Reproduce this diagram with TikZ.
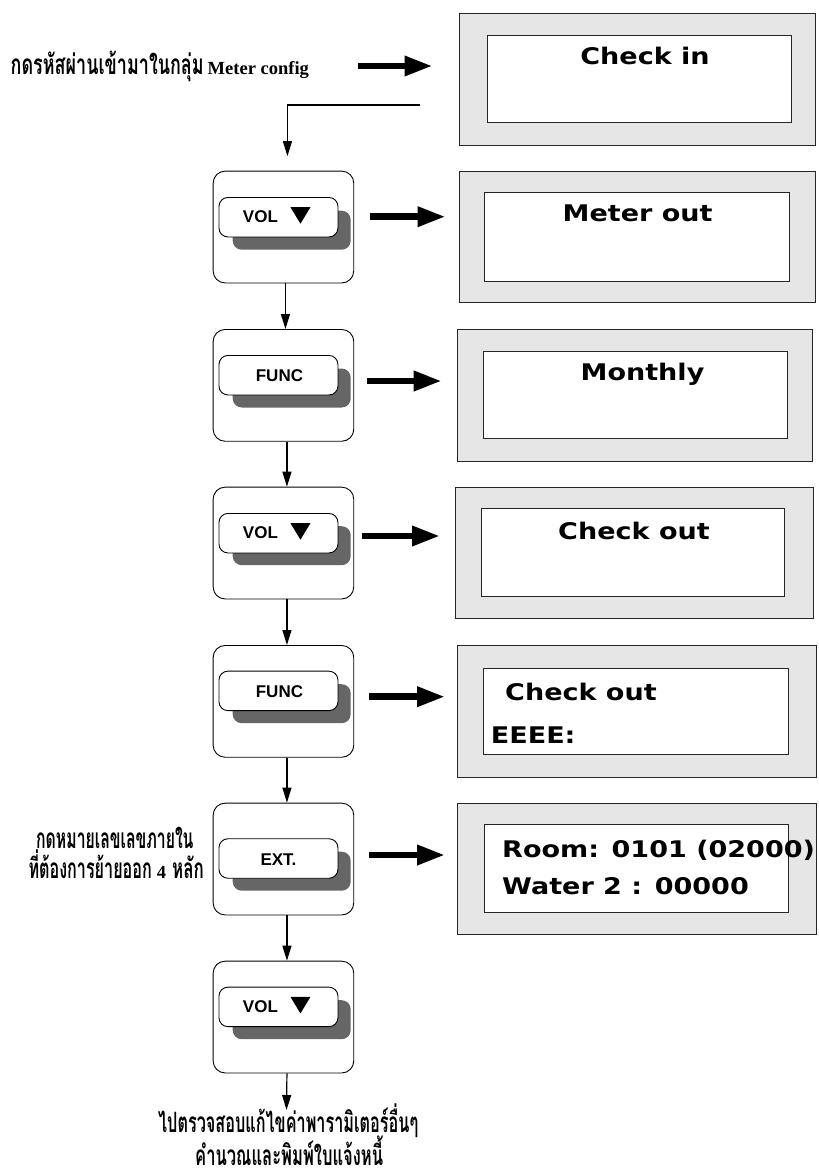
\documentclass[tikz,border=0pt]{standalone}
\usepackage{fontspec}
\usepackage{graphicx}
\usetikzlibrary{arrows.meta,calc}
\newfontfamily\thaifont[Script=Thai]{Loma}
\newfontfamily\lcdfont[FakeStretch=1.18]{DejaVu Sans}
\newfontfamily\btnfont{Liberation Sans}
\newfontfamily\serfont{Liberation Serif}
\definecolor{lcdgray}{RGB}{230,230,230}
\definecolor{shadowgray}{RGB}{102,102,102}
\newcommand\thaiA{\fontsize{28}{30}\selectfont\thaifont\bfseries}
\newcommand\latB{\fontsize{18.5}{20}\selectfont\serfont\bfseries}
\begin{document}
\begin{tikzpicture}[x=1pt,y=-1pt,
  lcdout/.style={draw=black!85, fill=lcdgray, line width=0.9pt, inner sep=0pt, anchor=north west},
  lcdin/.style={draw=black!85, fill=white, line width=0.9pt, inner sep=0pt, anchor=north west},
  keybox/.style={draw=black, fill=white, rounded corners=12pt, line width=0.9pt, inner sep=0pt, anchor=north west, minimum width=140.6pt, minimum height=111.8pt},
  btn/.style={draw=black, fill=white, rounded corners=9pt, line width=0.9pt, inner sep=0pt, anchor=north west, minimum width=119pt, minimum height=39.5pt},
  btnshadow/.style={fill=shadowgray, rounded corners=9pt, inner sep=0pt, anchor=north west, minimum width=118pt, minimum height=39pt},
  btntext/.style={font=\btnfont\bfseries\fontsize{17}{17}\selectfont, inner sep=0pt, anchor=base},
  lcdtext/.style={font=\lcdfont\bfseries\fontsize{22.9}{23}\selectfont, inner sep=0pt},
  bigarrow/.style={line width=6.5pt, -{Triangle[length=28pt,width=19pt]}},
  smallarrow/.style={line width=1.2pt, -{Triangle[length=15pt,width=9pt]}},
  thaitext/.style={inner sep=0pt, anchor=base west},
  tri/.style={fill=black}
]
\useasboundingbox (0,0) rectangle (819,1171);

% ---------- LCD displays ----------
\node[lcdout, minimum width=356.5pt, minimum height=132pt] (lcd1) at (458.5,12.7) {};
\node[lcdin, minimum width=303.5pt, minimum height=87pt] (lcd1i) at (487,35) {};
\node[lcdtext, anchor=base] (lcd1t) at (645,64) {Check in};

\node[lcdout, minimum width=356.5pt, minimum height=131.5pt] (lcd2) at (458.5,170.7) {};
\node[lcdin, minimum width=305pt, minimum height=88.7pt] (lcd2i) at (484,192) {};
\node[lcdtext, anchor=base] (lcd2t) at (637.7,221.7) {Meter out};

\node[lcdout, minimum width=355pt, minimum height=131.4pt] (lcd3) at (457.3,329.3) {};
\node[lcdin, minimum width=303.4pt, minimum height=87.6pt] (lcd3i) at (483.3,350.7) {};
\node[lcdtext, anchor=base] (lcd3t) at (642.5,380) {Monthly};

\node[lcdout, minimum width=358pt, minimum height=131pt] (lcd4) at (455,487) {};
\node[lcdin, minimum width=303pt, minimum height=88pt] (lcd4i) at (481,508) {};
\node[lcdtext, anchor=base] (lcd4t) at (634,539.3) {Check out};

\node[lcdout, minimum width=358.7pt, minimum height=132pt] (lcd5) at (457,645) {};
\node[lcdin, minimum width=304.7pt, minimum height=86pt] (lcd5i) at (483,668) {};
\node[lcdtext, anchor=base west] (lcd5t) at (505,700) {Check out};
\node[lcdtext, anchor=base west] (lcd5u) at (490.7,743.3) {EEEE:};

\node[lcdout, minimum width=358.4pt, minimum height=131.3pt] (lcd6) at (457.3,802.7) {};
\node[lcdin, minimum width=303.7pt, minimum height=87.7pt] (lcd6i) at (484,824) {};
\node[lcdtext, anchor=base west] (lcd6t) at (502,857) {Room: 0101 (02000)};
\node[lcdtext, anchor=base west] (lcd6u) at (502,894) {Water 2 : 00000};

% ---------- keys ----------
% VOL 1
\node[keybox] (vol1) at (212.7,170.7) {};
\node[btnshadow] (vol1s) at (232.5,210.5) {};
\node[btn] (vol1b) at (218.5,197) {};
\node[btntext] (vol1t) at ($(vol1b.center)+(-18,5.5)$) {VOL};
\fill[tri] ($(vol1b.center)+(12,-10)$) -- ++(20,0) -- ++(-10,16.5) -- cycle;

% FUNC 1
\node[keybox] (func1) at (212.7,329) {};
\node[btnshadow] (func1s) at (232.5,368.3) {};
\node[btn] (func1b) at (218.5,355) {};
\node[btntext] (func1t) at ($(func1b.center)+(1,6.3)$) {FUNC};

% VOL 2
\node[keybox] (vol2) at (212.7,486.7) {};
\node[btnshadow] (vol2s) at (232.5,526) {};
\node[btn] (vol2b) at (218.5,513) {};
\node[btntext] (vol2t) at ($(vol2b.center)+(-18,5.5)$) {VOL};
\fill[tri] ($(vol2b.center)+(12,-10)$) -- ++(20,0) -- ++(-10,16.5) -- cycle;

% FUNC 2
\node[keybox] (func2) at (212.7,645) {};
\node[btnshadow] (func2s) at (232.5,684) {};
\node[btn] (func2b) at (218.5,670.7) {};
\node[btntext] (func2t) at ($(func2b.center)+(1,6.3)$) {FUNC};

% EXT
\node[keybox] (ext) at (212.7,802.7) {};
\node[btnshadow] (exts) at (232.5,851.5) {};
\node[btn] (extb) at (218.5,838.3) {};
\node[btntext] (extt) at ($(extb.center)+(0,7)$) {EXT.};

% VOL 3
\node[keybox] (vol3) at (212.7,960.7) {};
\node[btnshadow] (vol3s) at (232.5,1000) {};
\node[btn] (vol3b) at (218.5,986.7) {};
\node[btntext] (vol3t) at ($(vol3b.center)+(-18,5.5)$) {VOL};
\fill[tri] ($(vol3b.center)+(12,-10)$) -- ++(20,0) -- ++(-10,16.5) -- cycle;

% ---------- Thai texts ----------
\node[thaitext] (th1) at (10.5,74.3) {\resizebox{193pt}{\height}{\thaiA กดรหัสผ่านเข้ามาในกลุ่ม}\hspace{4pt}{\latB Meter config}};
\node[thaitext] (th2) at (36,848) {\resizebox{157.3pt}{\height}{\thaiA กดหมายเลขเลขภายใน}};
\node[thaitext] (th3) at (28.3,878) {\resizebox{123.4pt}{\height}{\thaiA ที่ต้องการย้ายออก}\hspace{5pt}{\latB 4}\hspace{6pt}\resizebox{31.7pt}{\height}{\thaiA หลัก}};
\node[thaitext] (th4) at (158,1132.5) {\resizebox{260pt}{\height}{\thaiA ไปตรวจสอบแก้ไขค่าพารามิเตอร์อื่นๆ}};
\node[thaitext] (th5) at (195,1165) {\resizebox{188pt}{\height}{\thaiA คำนวณและพิมพ์ใบแจ้งหนี้}};

% ---------- big arrows ----------
\coordinate (a1s) at (357.6,66);   \coordinate (a1e) at (432.5,66);
\coordinate (a2s) at (369.6,216.7); \coordinate (a2e) at (445.5,216.7);
\coordinate (a3s) at (367.3,381);  \coordinate (a3e) at (441.7,381);
\coordinate (a4s) at (362,536);    \coordinate (a4e) at (440,536);
\coordinate (a5s) at (369.3,696.7); \coordinate (a5e) at (445,696.7);
\coordinate (a6s) at (369.3,855);  \coordinate (a6e) at (445,855);
\draw[bigarrow] (a1s) -- (a1e);
\draw[bigarrow] (a2s) -- (a2e);
\draw[bigarrow] (a3s) -- (a3e);
\draw[bigarrow] (a4s) -- (a4e);
\draw[bigarrow] (a5s) -- (a5e);
\draw[bigarrow] (a6s) -- (a6e);

% ---------- thin connectors ----------
\coordinate (c0) at (420,105);
\draw[smallarrow, shorten >=14.5pt] (c0) -| ([xshift=4pt]vol1.north);
\draw[smallarrow] ([xshift=2pt]vol1.south) -- ([xshift=2pt]func1.north);
\draw[smallarrow] ([xshift=3.5pt]func1.south) -- ([xshift=3.5pt]vol2.north);
\draw[smallarrow] ([xshift=3.5pt]vol2.south) -- ([xshift=3.5pt]func2.north);
\draw[smallarrow] ([xshift=3.5pt]func2.south) -- ([xshift=3.5pt]ext.north);
\draw[smallarrow] ([xshift=3.5pt]ext.south) -- ([xshift=3.5pt]vol3.north);
\coordinate (cend) at (286.5,1110);
\draw[smallarrow] ([xshift=3.5pt]vol3.south) -- (cend);
\end{tikzpicture}
\end{document}
